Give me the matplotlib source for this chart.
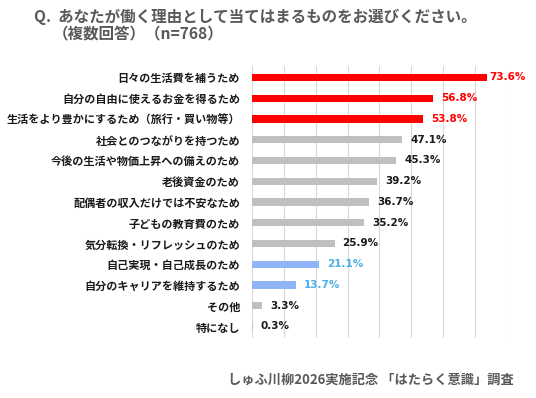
import matplotlib
matplotlib.use("Agg")
import matplotlib.pyplot as plt
from matplotlib.transforms import offset_copy

plt.rcParams['font.family'] = ['Noto Sans CJK JP', 'DejaVu Sans']

categories = [
    "日々の生活費を補うため",
    "自分の自由に使えるお金を得るため",
    "生活をより豊かにするため（旅行・買い物等）",
    "社会とのつながりを持つため",
    "今後の生活や物価上昇への備えのため",
    "老後資金のため",
    "配偶者の収入だけでは不安なため",
    "子どもの教育費のため",
    "気分転換・リフレッシュのため",
    "自己実現・自己成長のため",
    "自分のキャリアを維持するため",
    "その他",
    "特になし",
]
values = [73.6, 56.8, 53.8, 47.1, 45.3, 39.2, 36.7, 35.2, 25.9, 21.1, 13.7, 3.3, 0.3]
groups = ["red", "red", "red", "gray", "gray", "gray", "gray", "gray", "gray",
          "blue", "blue", "gray", "gray"]
title_line1 = "Q.  あなたが働く理由として当てはまるものをお選びください。"
title_line2 = "（複数回答）（n=768）"
footer = "しゅふ川柳2026実施記念 「はたらく意識」調査"

bar_colors = {"red": "#FF0000", "gray": "#BFBFBF", "blue": "#8FB4F7"}
text_colors = {"red": "#FF0000", "gray": "#1A1A1A", "blue": "#4BAEE8"}

fig = plt.figure(figsize=(5.36, 3.98), dpi=100)
ax = fig.add_axes([0.470, 0.151, 0.476, 0.683])

y = list(range(len(categories)))
ax.barh(y, values, height=0.34, color=[bar_colors[g] for g in groups], zorder=3)
ax.set_ylim(len(categories) - 0.45, -0.55)
ax.set_xlim(0, 80)
ax.set_xticks(range(0, 81, 10))
ax.xaxis.grid(True, color="#D9D9D9", linewidth=0.8, zorder=0)
ax.tick_params(axis="x", length=0, labelbottom=False)
ax.tick_params(axis="y", length=0, pad=8.5)
ax.set_yticks(y)
ax.set_yticklabels(categories, fontsize=8, fontweight="bold", color="#1A1A1A")
for s in ax.spines.values():
    s.set_visible(False)

for yi, v, g in zip(y, values, groups):
    off = 3 if v > 70 else 8
    tr = offset_copy(ax.transData, fig=fig, x=off, y=0, units="dots")
    ax.text(v, yi, f"{v:.1f}%", transform=tr, va="center", ha="left",
            fontsize=7.5, fontweight="bold", color=text_colors[g],
            family=["DejaVu Sans"])

fig.text(0.063, 0.957, title_line1, fontsize=11.2, color="#595959",
         fontweight="bold", va="center", ha="left")
fig.text(0.098, 0.917, title_line2, fontsize=11.2, color="#595959",
         fontweight="bold", va="center", ha="left")
fig.text(0.958, 0.045, footer, fontsize=9.5, color="#595959",
         fontweight="bold", va="center", ha="right")

fig.savefig("out.png", dpi=100)
